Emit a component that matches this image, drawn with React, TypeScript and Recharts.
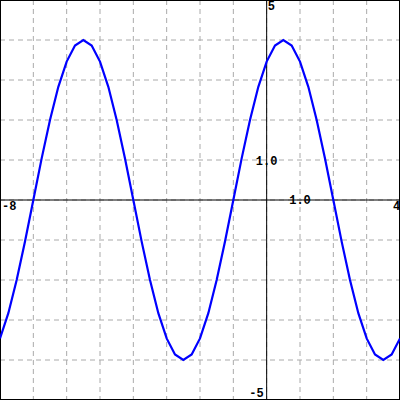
import { LineChart, Line, XAxis, YAxis, CartesianGrid, ReferenceLine, ReferenceDot } from "recharts";

const xs = [
  -8, -7.75, -7.5, -7.25, -7, -6.75, -6.5, -6.25, -6, -5.75, -5.5, -5.25, -5, -4.75, -4.5, -4.25, -4,
  -3.75, -3.5, -3.25, -3, -2.75, -2.5, -2.25, -2, -1.75, -1.5, -1.25, -1, -0.75, -0.5, -0.25, 0,
  0.25, 0.5, 0.75, 1, 1.25, 1.5, 1.75, 2, 2.25, 2.5, 2.75, 3, 3.25, 3.5, 3.75, 4,
];
const ys = [
  -3.46, -2.83, -2, -1.04, 0, 1.04, 2, 2.83, 3.46, 3.86, 4, 3.86, 3.46, 2.83, 2, 1.04, 0,
  -1.04, -2, -2.83, -3.46, -3.86, -4, -3.86, -3.46, -2.83, -2, -1.04, 0, 1.04, 2, 2.83, 3.46,
  3.86, 4, 3.86, 3.46, 2.83, 2, 1.04, 0, -1.04, -2, -2.83, -3.46, -3.86, -4, -3.86, -3.46,
];
const xTicks = [-8, -7, -6, -5, -4, -3, -2, -1, 0, 1, 2, 3, 4];
const yTicks = [-5, -4, -3, -2, -1, 0, 1, 2, 3, 4, 5];

const data = xs.map((x, i) => ({ x, y: ys[i] }));

const font = "'Liberation Mono', monospace";

// text label drawn relative to a point in data space
const tag = (text: string, dx: number, dy: number, anchor: string) => (props: any) => {
  const vb = props.viewBox;
  const cx = vb.x + (vb.width || 0) / 2;
  const cy = vb.y + (vb.height || 0) / 2;
  return (
    <text x={cx + dx} y={cy + dy} textAnchor={anchor} fontFamily={font} fontSize={12} fontWeight="bold" fill="#000">
      {text}
    </text>
  );
};

export default function App() {
  return (
    <div style={{ position: "fixed", left: 0, top: 0, width: 400, height: 400, background: "#fff" }}>
      <LineChart width={400} height={400} data={data} margin={{ top: 0, right: 0, bottom: 0, left: 0 }}>
        <XAxis dataKey="x" type="number" domain={[-8, 4]} ticks={xTicks} hide />
        <YAxis type="number" domain={[-5, 5]} ticks={yTicks} hide />
        <CartesianGrid stroke="#aaa" strokeDasharray="5 4" />
        <ReferenceLine x={0} stroke="#000" strokeWidth={1} />
        <ReferenceLine y={0} stroke="#000" strokeWidth={1} />
        <ReferenceLine x={-8} stroke="#000" strokeWidth={2} />
        <ReferenceLine x={4} stroke="#000" strokeWidth={2} />
        <ReferenceLine y={5} stroke="#000" strokeWidth={2} />
        <ReferenceLine y={-5} stroke="#000" strokeWidth={2} />
        <Line
          type="linear"
          dataKey="y"
          stroke="#0000ff"
          strokeWidth={2.2}
          dot={false}
          activeDot={false}
          isAnimationActive={false}
        />
        <ReferenceDot x={-8} y={0} r={0} stroke="none" fill="none" label={{ content: tag("-8", 2, 10, "start") }} />
        <ReferenceDot x={4} y={0} r={0} stroke="none" fill="none" label={{ content: tag("4", -7, 10, "start") }} />
        <ReferenceDot x={0} y={5} r={0} stroke="none" fill="none" label={{ content: tag("5", 1, 10, "start") }} />
        <ReferenceDot x={0} y={-5} r={0} stroke="none" fill="none" label={{ content: tag("-5", -3, -3, "end") }} />
        <ReferenceDot x={0} y={1} r={0} stroke="none" fill="none" label={{ content: tag("1.0", 0, 5, "middle") }} />
        <ReferenceDot x={1} y={0} r={0} stroke="none" fill="none" label={{ content: tag("1.0", 0, 4, "middle") }} />
      </LineChart>
    </div>
  );
}
